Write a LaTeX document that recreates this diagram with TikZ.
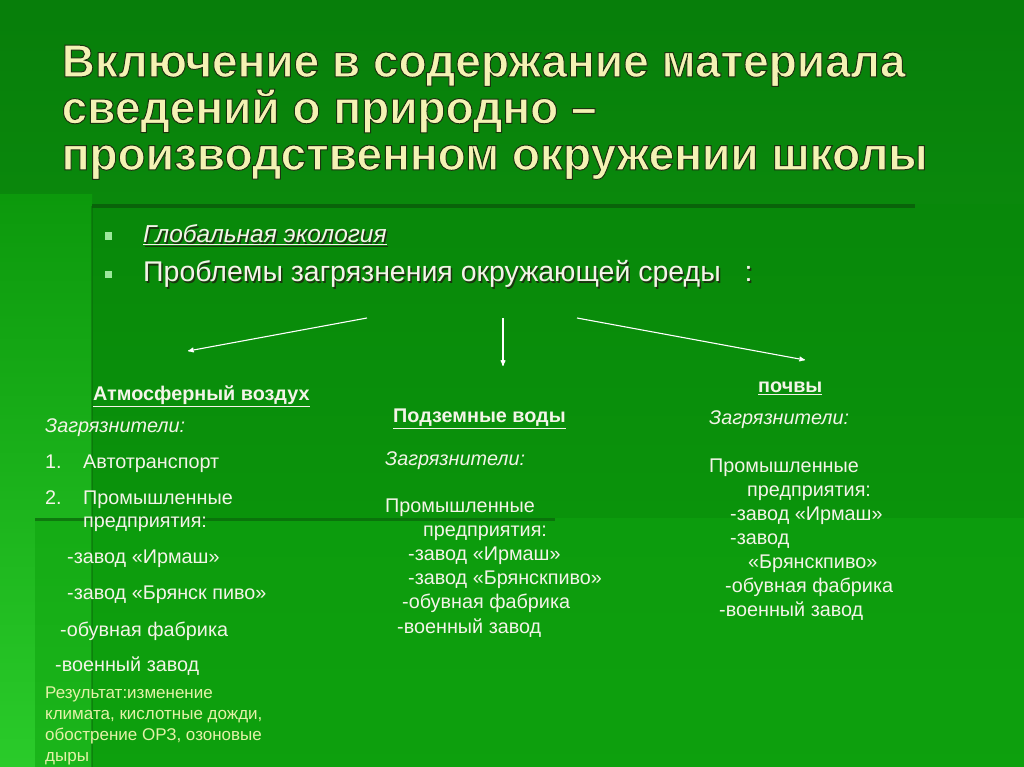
\documentclass[tikz,border=0pt]{standalone}
\usepackage{fontspec}
\setmainfont{Liberation Sans}
\usetikzlibrary{arrows}
\usetikzlibrary{positioning}

\definecolor{bgtop}{HTML}{077E0A}
\definecolor{bgbot}{HTML}{12A412}
\definecolor{stripA}{HTML}{0C990C}
\definecolor{stripB}{HTML}{2ACB2A}
\definecolor{panelA}{HTML}{08880A}
\definecolor{panelB}{HTML}{0C9C0C}
\definecolor{panelC}{HTML}{0FA40F}
\definecolor{edge}{HTML}{0A5A0A}
\definecolor{titlefg}{HTML}{F4F2B4}
\definecolor{titlesh}{HTML}{1C3410}
\definecolor{txt}{HTML}{F4F4E8}
\definecolor{restxt}{HTML}{E4F2A8}
\definecolor{bul}{HTML}{9CE89C}

% text with a dark drop shadow
\newcommand\shtext[2][2.5pt]{\rlap{\hspace{#1}\raisebox{-#1}{\textcolor{titlesh}{#2}}}#2}
% text with a dark outline (fill and stroke)
\newcommand\outltext[1]{\special{pdf:literal direct 0.11 0.2 0.06 RG 2 Tr 1.0 w}#1\special{pdf:literal direct 0 Tr}}

\begin{document}
\begin{tikzpicture}[
		x=1pt,y=-1pt,
		>=stealth',
		title/.style={anchor=north west,inner sep=0pt,align=left,
			font=\fontsize{46}{46.5}\selectfont\bfseries,text=titlefg},
		item/.style={anchor=mid west,inner sep=0pt,
			font=\fontsize{19.8}{22}\selectfont,text=txt},
		head/.style={item,font=\fontsize{19.8}{22}\selectfont\bfseries},
		pollut/.style={item,font=\fontsize{19.8}{22}\selectfont\itshape},
		result/.style={item,font=\fontsize{17}{20}\selectfont,text=restxt},
		bigitem/.style={item,font=\fontsize{28.5}{32}\selectfont},
		bullet node/.style={fill=bul,minimum size=7pt,inner sep=0pt},
		arr/.style={->,white,line width=1.1pt}
		]
		
		% background
		\useasboundingbox (0,0) rectangle (1024,767);
		\shade[top color=bgtop,bottom color=bgbot] (0,0) rectangle (1024,767);
		\shade[top color=stripA,bottom color=stripB] (0,195) rectangle (92,767);
		\shade[top color=panelA,bottom color=panelB] (92,205) rectangle (1024,767);
		\fill[panelC,opacity=0.55] (35,518) rectangle (1024,767);
		\draw[edge,line width=3.5pt,opacity=0.8] (92,206) -- (915,206);
		\draw[edge,line width=1.5pt,opacity=0.4] (92,206) -- (92,767);
		\draw[edge,line width=3pt,opacity=0.6] (35,519) -- (555,519);
		
		% title
		\node[title] (t1) at (61.5,45) {\outltext{Включение в содержание материала}\\
			\outltext{сведений о природно –}\\
			\outltext{производственном окружении школы}};
		
		% bullets
		\node[bullet node] (b1) at (108,236) {};
		\node[bullet node] (b2) at (108,274) {};
		\node[item,font=\fontsize{24.5}{28}\selectfont\itshape] (g1) at (143,240) {\shtext[1.5pt]{\underline{Глобальная экология}}};
		\node[bigitem] (p1) at (143,279) {\shtext[1.5pt]{Проблемы загрязнения окружающей среды\ \ \ :}};
		
		% left column
		\node[head] (h1) at (93,398) {\underline{Атмосферный воздух}};
		\node[pollut] (l1) at (45,430) {Загрязнители:};
		\node[item] (l2) at (45,466) {1.};
		\node[item] (l3) at (83,466) {Автотранспорт};
		\node[item] (l4) at (45,502) {2.};
		\node[item] (l5) at (83,502) {Промышленные};
		\node[item] (l6) at (83,525) {предприятия:};
		\node[item] (l7) at (67,561) {-завод «Ирмаш»};
		\node[item] (l8) at (67,597) {-завод «Брянск пиво»};
		\node[item] (l9) at (60,634) {-обувная фабрика};
		\node[item] (l10) at (55,669) {-военный завод};
		\node[result] (r1) at (45,696) {Результат:изменение};
		\node[result] (r2) at (45,717) {климата, кислотные дожди,};
		\node[result] (r3) at (45,738) {обострение ОРЗ, озоновые};
		\node[result] (r4) at (45,759) {дыры};
		
		% middle column
		\node[head] (h2) at (393,420) {\underline{Подземные воды}};
		\node[pollut] (m1) at (385,463) {Загрязнители:};
		\node[item] (m2) at (385,510) {Промышленные};
		\node[item] (m3) at (423,534) {предприятия:};
		\node[item] (m4) at (408,558) {-завод «Ирмаш»};
		\node[item] (m5) at (408,582) {-завод «Брянскпиво»};
		\node[item] (m6) at (402,606) {-обувная фабрика};
		\node[item] (m7) at (397,631) {-военный завод};
		
		% right column
		\node[head] (h3) at (758,390) {\underline{почвы}};
		\node[pollut] (q1) at (709,422) {Загрязнители:};
		\node[item] (q2) at (709,470) {Промышленные};
		\node[item] (q3) at (747,494) {предприятия:};
		\node[item] (q4) at (730,518) {-завод «Ирмаш»};
		\node[item] (q5) at (730,542) {-завод};
		\node[item] (q6) at (748,566) {«Брянскпиво»};
		\node[item] (q7) at (725,590) {-обувная фабрика};
		\node[item] (q8) at (719,614) {-военный завод};
		
		% arrows
		\coordinate (a1) at (367,318);
		\coordinate (e1) at (188,351);
		\coordinate (a2) at (503,318);
		\coordinate (e2) at (503,366);
		\coordinate (a3) at (577,318);
		\coordinate (e3) at (805,360);
		\draw[arr] (a1) -- (e1);
		\draw[arr] (a2) -- (e2);
		\draw[arr] (a3) -- (e3);
	\end{tikzpicture}
\end{document}
